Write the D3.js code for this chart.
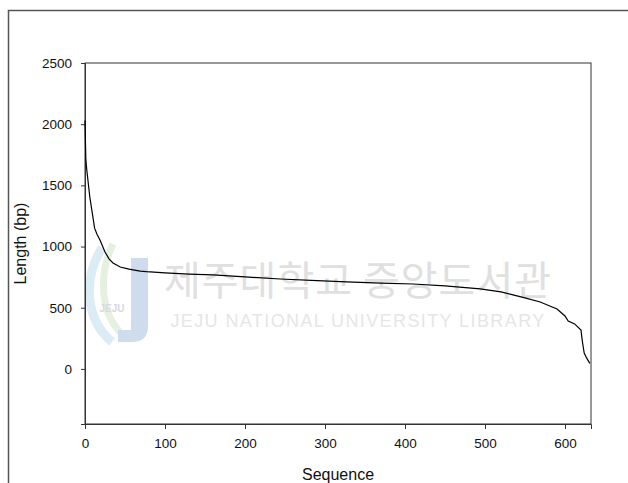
<!DOCTYPE html>
<html>
<head>
<meta charset="utf-8">
<script src="https://cdn.jsdelivr.net/npm/d3@7"></script>
<style>
  html, body { margin: 0; padding: 0; background: #fff; }
  svg { display: block; }
</style>
</head>
<body>
<div id="canvas"></div>
<script>
// sorted sequence index vs. length
const seqIndex = [0, 1, 2, 6, 9, 12, 15, 19, 25, 30, 35, 44, 55, 69, 77, 100, 130, 160, 200, 244,
  290, 327, 370, 410, 450, 494, 520, 535, 550, 569, 584, 590, 600, 604, 612, 620, 621, 622, 624, 627, 631];
const lengthBp = [2030, 1720, 1640, 1405, 1280, 1150, 1100, 1050, 956, 900, 866, 833, 815, 800, 795, 785, 775, 768, 752, 735,
  722, 711, 702, 694, 678, 654, 630, 605, 580, 547, 506, 490, 433, 392, 368, 318, 260, 212, 130, 90, 45];
const xTicks = [0, 100, 200, 300, 400, 500, 600];
const yTicks = [0, 500, 1000, 1500, 2000, 2500];

const W = 628, H = 483;
const margin = { left: 85, right: 37, top: 63, bottom: 59 };
const width = W - margin.left - margin.right,
  height = H - margin.top - margin.bottom;

const svg = d3.select("#canvas").append("svg")
  .attr("width", W)
  .attr("height", H)
  .style("font-family", "'Liberation Sans', Arial, sans-serif");

svg.append("rect").attr("width", W).attr("height", H).attr("fill", "#fff");

// outer frame (only top + left visible)
svg.append("path")
  .attr("d", "M8.5," + H + "V10.5H" + W)
  .attr("fill", "none")
  .attr("stroke", "#555")
  .attr("stroke-width", 1.5);

// watermark
const wm = svg.append("g").attr("class", "watermark");
wm.append("path")
  .attr("d", "M102,248 C82,280 86,320 112,342")
  .attr("fill", "none").attr("stroke", "#dcecf5").attr("stroke-width", 9);
wm.append("path")
  .attr("d", "M113,244 C98,275 100,315 124,336")
  .attr("fill", "none").attr("stroke", "#e6f0de").attr("stroke-width", 7);
wm.append("path")
  .attr("d", "M131,258H148V326Q148,342 132,342H118V330H131Z")
  .attr("fill", "#cfdcee");
wm.append("text")
  .attr("x", 112).attr("y", 312).attr("text-anchor", "middle")
  .attr("font-size", 10).attr("font-weight", "bold").attr("fill", "#d8d8e0").text("JEJU");
wm.append("text")
  .attr("x", 358).attr("y", 295).attr("text-anchor", "middle")
  .attr("font-family", "'Noto Sans CJK KR', sans-serif")
  .attr("font-size", 40).attr("letter-spacing", 1)
  .attr("fill", "#e0e0e0").text("제주대학교 중앙도서관");
wm.append("text")
  .attr("x", 358).attr("y", 327).attr("text-anchor", "middle")
  .attr("font-size", 18).attr("letter-spacing", 1.4)
  .attr("fill", "#e6e6e6").text("JEJU NATIONAL UNIVERSITY  LIBRARY");

const g = svg.append("g").attr("transform", "translate(" + margin.left + "," + margin.top + ")");

const x = d3.scaleLinear().domain([0, 632.5]).range([0, width]);
const y = d3.scaleLinear().domain([-450, 2500]).range([height, 0]);

// plot box
g.append("rect")
  .attr("width", width).attr("height", height)
  .attr("fill", "none").attr("stroke", "#333").attr("stroke-width", 1);

const xAxis = g.append("g")
  .attr("transform", "translate(0," + height + ")")
  .call(d3.axisBottom(x).tickValues(xTicks).tickSize(5).tickPadding(9).tickFormat(d3.format("d")));
const yAxis = g.append("g")
  .call(d3.axisLeft(y).tickValues(yTicks).tickSize(4).tickPadding(9).tickFormat(d3.format("d")));

[xAxis, yAxis].forEach(a => {
  a.select(".domain").attr("stroke", "#333");
  a.selectAll(".tick line").attr("stroke", "#333");
  a.selectAll(".tick text").attr("font-size", 13.5).attr("fill", "#111")
    .style("font-family", "'Liberation Sans', Arial, sans-serif");
});

const pts = seqIndex.map((s, i) => ({ s: s, v: lengthBp[i] }));
const line = d3.line()
  .x(d => x(d.s))
  .y(d => y(d.v));

g.append("path")
  .datum(pts)
  .attr("d", line)
  .attr("fill", "none")
  .attr("stroke", "#000")
  .attr("stroke-width", 1.2);

svg.append("text")
  .attr("x", margin.left + width / 2).attr("y", 480)
  .attr("text-anchor", "middle")
  .attr("font-size", 16).attr("fill", "#111")
  .text("Sequence");

svg.append("text")
  .attr("transform", "translate(26," + (margin.top + height / 2) + ") rotate(-90)")
  .attr("text-anchor", "middle")
  .attr("font-size", 16).attr("fill", "#111")
  .text("Length (bp)");
</script>
</body>
</html>
